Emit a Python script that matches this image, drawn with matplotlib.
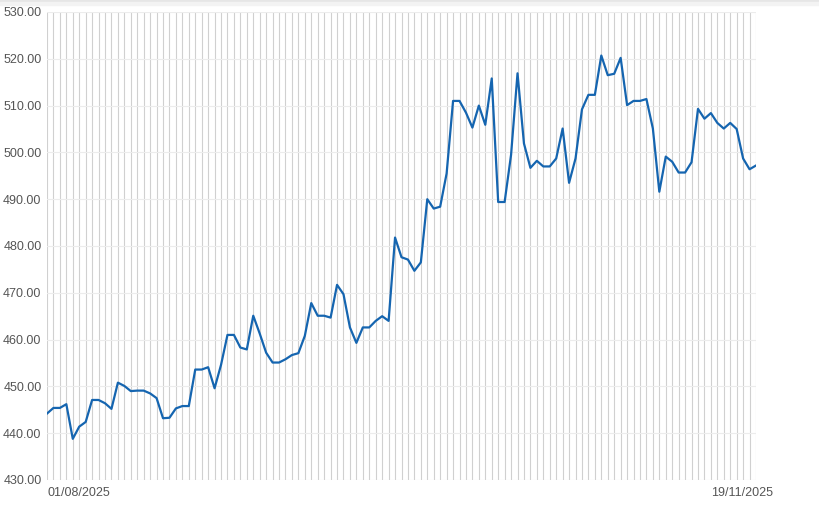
import numpy as np
import pandas as pd
import matplotlib
matplotlib.use("Agg")
import matplotlib.pyplot as plt
import matplotlib.transforms as mtransforms
from matplotlib.patches import Rectangle

# daily prices 01/08/2025 .. 19/11/2025
start_date = "2025-08-01"
end_date = "2025-11-19"
prices = [
    444.2, 445.4, 445.4, 446.2, 438.8, 441.4, 442.4, 447.1, 447.1, 446.4,
    445.2, 450.8, 450.1, 449.0, 449.1, 449.1, 448.5, 447.5, 443.2, 443.3,
    445.3, 445.8, 445.8, 453.6, 453.6, 454.1, 449.6, 454.6, 461.0, 461.0,
    458.3, 457.9, 465.1, 461.3, 457.2, 455.1, 455.1, 455.8, 456.7, 457.1,
    460.8, 467.8, 465.1, 465.1, 464.7, 471.7, 469.7, 462.6, 459.3, 462.6,
    462.6, 464.0, 465.0, 464.0, 481.8, 477.6, 477.1, 474.7, 476.5, 490.0,
    488.0, 488.4, 495.5, 511.0, 511.0, 508.5, 505.3, 510.0, 505.9, 515.8,
    489.4, 489.4, 499.5, 516.9, 501.9, 496.7, 498.2, 497.0, 497.0, 498.7,
    505.1, 493.5, 498.7, 509.2, 512.3, 512.3, 520.7, 516.5, 516.8, 520.2,
    510.1, 511.0, 511.0, 511.4, 505.1, 491.6, 499.1, 498.0, 495.7, 495.7,
    497.9, 509.3, 507.2, 508.4, 506.3, 505.1, 506.3, 505.0, 498.7, 496.4,
    497.2,
]
y_ticks = [430, 440, 450, 460, 470, 480, 490, 500, 510, 520, 530]

dates = pd.date_range(start_date, end_date, freq="D")

plt.rcParams["font.family"] = ["Liberation Sans", "DejaVu Sans"]

fig = plt.figure(figsize=(8.19, 5.05), dpi=100)
ax = fig.add_axes([47 / 819, 25 / 505, 709 / 819, 468 / 505])

# faint shadow band along the top edge
fig.patches.append(Rectangle((0, 1 - 2 / 505), 1, 2 / 505, transform=fig.transFigure,
                             color="#e6e6e6", zorder=0))
fig.patches.append(Rectangle((0, 1 - 5 / 505), 1, 3 / 505, transform=fig.transFigure,
                             color="#f3f3f3", zorder=0))

# vertical grid at every day, horizontal grid every 10
for d in dates:
    ax.axvline(d, color="#d0d0d0", lw=0.8, zorder=1)
for v in y_ticks:
    ax.axhline(v, color="#ececec", lw=0.8, zorder=1)

ax.plot(dates, prices, color="#1565b0", lw=1.6, zorder=3)

ax.set_xlim(dates[0], dates[-1])
ax.set_ylim(430, 530)
ax.set_yticks(y_ticks)
ax.set_yticklabels(["%.2f" % v for v in y_ticks])
ax.set_xticks([dates[0], dates[-1]])
ax.set_xticklabels([dates[0].strftime("%d/%m/%Y"), dates[-1].strftime("%d/%m/%Y")])

for s in ax.spines.values():
    s.set_visible(False)
ax.tick_params(axis="both", length=0, labelsize=9, labelcolor="#555555")
ax.tick_params(axis="y", pad=4)
ax.tick_params(axis="x", pad=5)

labels = ax.get_xticklabels()
labels[0].set_ha("left")
labels[-1].set_ha("center")
labels[-1].set_transform(labels[-1].get_transform() +
                         mtransforms.ScaledTranslation(-14 / 100, 0, fig.dpi_scale_trans))

fig.savefig("out.png", dpi=100)
